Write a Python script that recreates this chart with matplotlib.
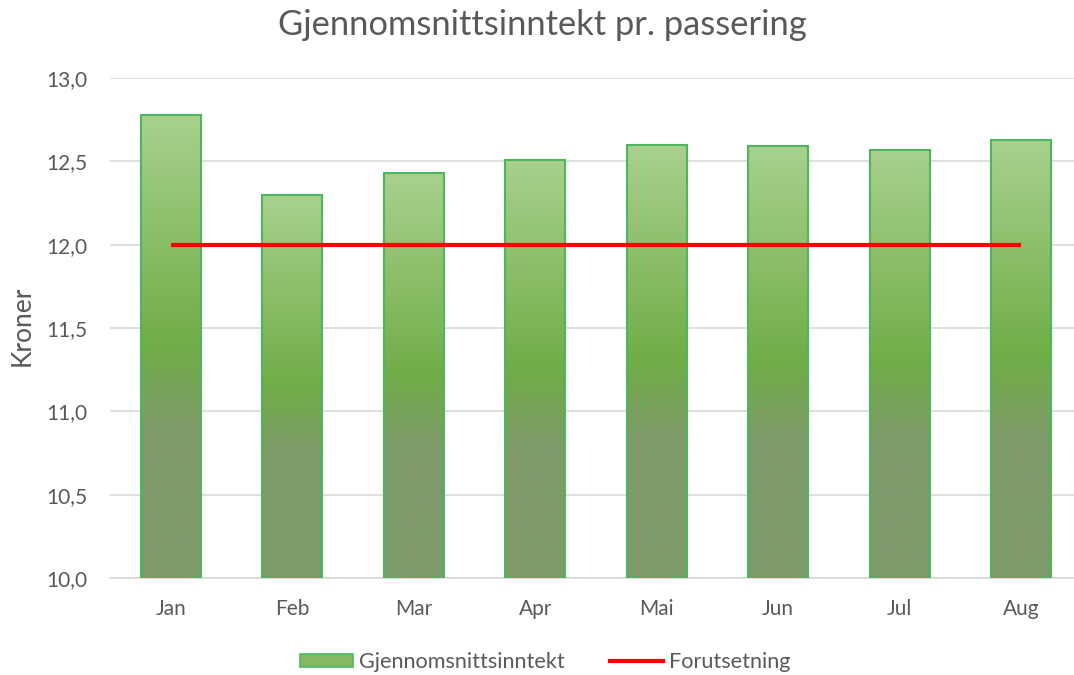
import matplotlib
matplotlib.use("Agg")
import matplotlib.pyplot as plt
import numpy as np
from matplotlib.colors import LinearSegmentedColormap
from matplotlib.patches import Rectangle
from matplotlib.lines import Line2D

months = ["Jan", "Feb", "Mar", "Apr", "Mai", "Jun", "Jul", "Aug"]
income = [12.78, 12.30, 12.43, 12.51, 12.60, 12.59, 12.57, 12.63]
target = [12.0, 12.0, 12.0, 12.0, 12.0, 12.0, 12.0, 12.0]
yticks = [10.0, 10.5, 11.0, 11.5, 12.0, 12.5, 13.0]

plt.rcParams['font.family'] = ['Lato', 'DejaVu Sans']
txt = '#595959'

fig = plt.figure(figsize=(10.74, 6.75), dpi=100)
ax = fig.add_axes([110/1074, 1-578/675, (1082-110)/1074, (578-78)/675])

cmap = LinearSegmentedColormap.from_list('g', [
    (0.0, (169/255, 209/255, 142/255)),
    (0.50, (112/255, 173/255, 71/255)),
    (0.68, (126/255, 154/255, 106/255)),
    (1.0, (126/255, 154/255, 106/255)),
])
grad = np.linspace(0, 1, 256).reshape(-1, 1)

x = np.arange(len(months))
w = 0.49
ymin = 10.0
for xi, v in zip(x, income):
    ax.imshow(grad, cmap=cmap, aspect='auto', extent=[xi - w/2, xi + w/2, ymin, v],
              origin='upper', zorder=2, interpolation='bilinear')
bars = ax.bar(x, np.array(income) - ymin, bottom=ymin, width=w, facecolor='none',
              edgecolor='#4DB760', linewidth=1.5, zorder=3)

ax.plot(x, target, color='#FF0000', linewidth=3.0, zorder=4, solid_capstyle='butt')

ax.set_xlim(-0.5, len(months) - 0.5)
ax.set_ylim(10.0, 13.0)
ax.set_yticks(yticks)
ax.set_yticklabels([f"{t:.1f}".replace('.', ',') for t in yticks])
ax.set_xticks(x)
ax.set_xticklabels(months)
ax.tick_params(axis='both', length=0, colors=txt, labelsize=15)
ax.tick_params(axis='x', pad=15)
ax.tick_params(axis='y', pad=16)
ax.grid(axis='y', color='#D9D9D9', linewidth=1.2, zorder=0)
ax.set_axisbelow(True)
for s in ['top', 'right', 'left']:
    ax.spines[s].set_visible(False)
ax.spines['bottom'].set_color('#D9D9D9')
ax.spines['bottom'].set_linewidth(1.2)

fig.text(22/1074, 1-326/675, 'Kroner', rotation=90, ha='center', va='center',
         color=txt, fontsize=19)
fig.text(542/1074, 1-25/675, 'Gjennomsnittsinntekt pr. passering', ha='center', va='center',
         color=txt, fontsize=24.8)

handles = [Rectangle((0, 0), 1, 1, facecolor='#84B862', edgecolor='#4DB760', linewidth=1.2),
           Line2D([0], [0], color='#FF0000', linewidth=3.0)]
fig.legend(handles, ['Gjennomsnittsinntekt', 'Forutsetning'], loc='center',
           bbox_to_anchor=(545/1074, 1-662/675), ncol=2, frameon=False,
           fontsize=15.6, labelcolor=txt, handlelength=2.43, handletextpad=0.28,
           columnspacing=2.1, handleheight=0.56)

fig.savefig('out.png', dpi=100)
